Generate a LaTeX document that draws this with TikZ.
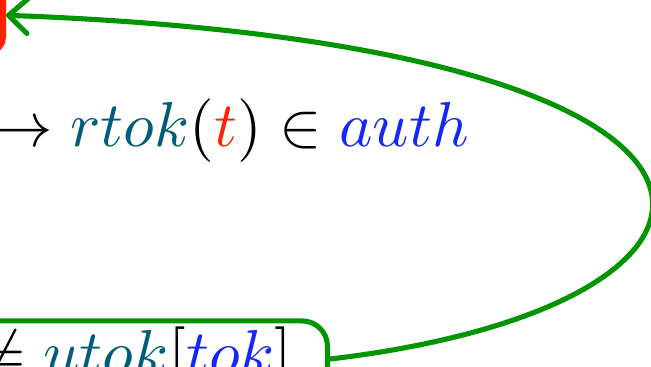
\documentclass[tikz,border=0pt]{standalone}
\usepackage{amsmath}
\usetikzlibrary{positioning, arrows.meta}
\definecolor{flow}{RGB}{0,148,0}
\definecolor{hot}{RGB}{255,34,0}
\definecolor{fun}{RGB}{0,92,122}
\definecolor{set}{RGB}{20,40,245}

\begin{document}
\begin{tikzpicture}[
    x=0.1575pt, y=-0.1575pt,
    >={Straight Barb[length=3pt, width=5.5pt, round]},
    hotbox/.style={draw=hot, rounded corners=2pt, line width=1.2pt,
                   minimum width=60pt, minimum height=11pt, inner sep=0pt},
    flowbox/.style={draw=flow, rounded corners=4pt, line width=0.8pt,
                    inner xsep=5.5pt, inner ysep=1pt},
    link/.style={draw=flow, line width=0.8pt, line cap=round},
]
\useasboundingbox (0,0) rectangle (651,366);

% box of the rule, mostly outside the view
\node[hotbox, anchor=south east] (rule) at (6,54) {};

% the condition
\node[anchor=base east, inner sep=0pt] (cond) at (470,146)
    {$\rightarrow \textcolor{fun}{rtok}(\textcolor{hot}{t}) \in \textcolor{set}{auth}$};

% the check below
\node[flowbox, anchor=east] (check) at (330,359)
    {$\neq \textcolor{fun}{utok}[\textcolor{set}{tok}]$};

\draw[link, ->] (check.east) .. controls (790,305) and (820,45) .. (rule.east);

\end{tikzpicture}
\end{document}
